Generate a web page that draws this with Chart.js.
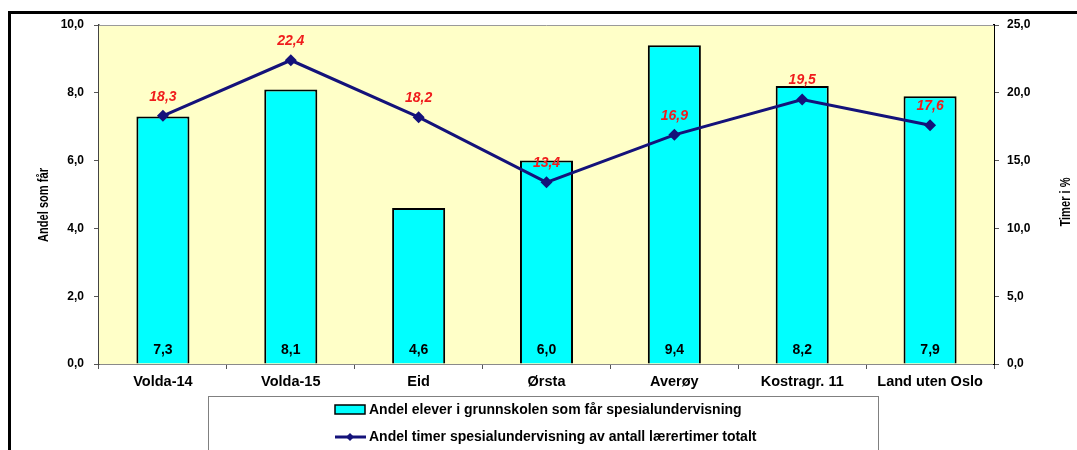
<!DOCTYPE html>
<html>
<head>
<meta charset="utf-8">
<script src="https://cdn.jsdelivr.net/npm/chart.js@4.4.1/dist/chart.umd.min.js"></script>
<style>
    body { margin: 0; background: #fff; }
    #wrap { position: relative; width: 1077px; height: 450px; }
</style>
</head>
<body>
<div id="wrap"><canvas id="grafico"></canvas></div>
<script>
// Datos
const kommuner = ['Volda-14', 'Volda-15', 'Eid', 'Ørsta', 'Averøy', 'Kostragr. 11', 'Land uten Oslo'];
const andelElever = [7.3, 8.1, 4.6, 6.0, 9.4, 8.2, 7.9];
const andelTimer = [18.3, 22.4, 18.2, 13.4, 16.9, 19.5, 17.6];
const ticksVenstre = [0, 2, 4, 6, 8, 10];
const ticksHoyre = [0, 5, 10, 15, 20, 25];

const navnElever = 'Andel elever i grunnskolen som får spesialundervisning';
const navnTimer = 'Andel timer spesialundervisning av antall lærertimer totalt';

const marina = '#14127a';
const coma = v => v.toFixed(1).replace('.', ',');
const fuente = 'Arial, "Liberation Sans", sans-serif';

// Fondo amarillo del area
const fondo = {
    id: 'fondo',
    beforeDatasetsDraw(chart) {
        const { ctx, chartArea: a } = chart;
        ctx.save();
        ctx.fillStyle = '#ffffc8';
        ctx.fillRect(a.left, a.top, a.right - a.left, a.bottom - a.top);
        ctx.strokeStyle = '#9a9a9a';
        ctx.lineWidth = 1;
        ctx.beginPath();
        ctx.moveTo(a.left, a.top + 0.5);
        ctx.lineTo(a.right, a.top + 0.5);
        ctx.stroke();
        ctx.restore();
    }
};

// Etiquetas de valores, titulos de ejes, leyenda y marco
const extras = {
    id: 'extras',
    afterDraw(chart) {
        const { ctx } = chart;
        ctx.save();

        // valores de las barras
        ctx.font = 'bold 14px ' + fuente;
        ctx.fillStyle = '#000';
        ctx.textAlign = 'center';
        ctx.textBaseline = 'middle';
        chart.getDatasetMeta(0).data.forEach((bar, i) => {
            ctx.fillText(coma(andelElever[i]), bar.x, bar.base - 13);
        });

        // valores de la linea
        ctx.font = 'italic bold 14px ' + fuente;
        ctx.fillStyle = '#f01c1c';
        chart.getDatasetMeta(1).data.forEach((pt, i) => {
            ctx.fillText(coma(andelTimer[i]), pt.x, pt.y - 19);
        });

        // titulos de ejes (letra estrecha)
        ctx.font = 'bold 15px ' + fuente;
        ctx.fillStyle = '#000';
        ctx.save();
        ctx.translate(44, 205);
        ctx.rotate(-Math.PI / 2);
        ctx.scale(0.74, 1);
        ctx.fillText('Andel som får', 0, 0);
        ctx.restore();
        ctx.save();
        ctx.translate(1066, 202);
        ctx.rotate(-Math.PI / 2);
        ctx.scale(0.74, 1);
        ctx.fillText('Timer i %', 0, 0);
        ctx.restore();

        // leyenda
        ctx.strokeStyle = '#808080';
        ctx.lineWidth = 1;
        ctx.strokeRect(208.5, 396.5, 670, 70);
        ctx.fillStyle = '#00ffff';
        ctx.fillRect(335, 405, 30, 9);
        ctx.strokeStyle = '#000';
        ctx.lineWidth = 1.5;
        ctx.strokeRect(335, 405, 30, 9);
        ctx.strokeStyle = marina;
        ctx.lineWidth = 3;
        ctx.beginPath();
        ctx.moveTo(335, 437);
        ctx.lineTo(366, 437);
        ctx.stroke();
        ctx.fillStyle = marina;
        ctx.beginPath();
        ctx.moveTo(350, 433);
        ctx.lineTo(354, 437);
        ctx.lineTo(350, 441);
        ctx.lineTo(346, 437);
        ctx.closePath();
        ctx.fill();
        ctx.font = 'bold 14px ' + fuente;
        ctx.fillStyle = '#000';
        ctx.textAlign = 'left';
        ctx.fillText(chart.data.datasets[0].label, 369, 410);
        ctx.fillText(chart.data.datasets[1].label, 369, 437);

        // marco exterior
        ctx.fillStyle = '#000';
        ctx.fillRect(8, 11, 1069, 3);
        ctx.fillRect(8, 11, 3, 439);
        ctx.restore();
    }
};

const ctx = document.getElementById('grafico').getContext('2d');

const miGrafico = new Chart(ctx, {
    data: {
        labels: kommuner,
        datasets: [
            {
                type: 'bar',
                label: navnElever,
                data: andelElever,
                yAxisID: 'y',
                backgroundColor: '#00ffff',
                borderColor: '#000',
                borderWidth: 2,
                categoryPercentage: 1,
                barPercentage: 0.415,
                order: 2
            },
            {
                type: 'line',
                label: navnTimer,
                data: andelTimer,
                yAxisID: 'y1',
                borderColor: marina,
                backgroundColor: marina,
                borderWidth: 3,
                pointStyle: 'rectRot',
                pointRadius: 6,
                pointBorderWidth: 0,
                tension: 0,
                order: 1
            }
        ]
    },
    options: {
        responsive: true,
        maintainAspectRatio: false,
        animation: false,
        layout: { padding: { top: 25, left: 0, right: 0, bottom: 0 } },
        plugins: {
            legend: { display: false },
            tooltip: { enabled: false }
        },
        scales: {
            x: {
                offset: true,
                afterFit: s => { s.height = 86; },
                grid: { drawOnChartArea: false, drawTicks: true, tickLength: 5, offset: true, color: '#555' },
                border: { color: '#8a8a8a', width: 1 },
                ticks: {
                    color: '#000',
                    padding: 4,
                    maxRotation: 0,
                    autoSkip: false,
                    font: { family: fuente, size: 14.5, weight: 'bold' }
                }
            },
            y: {
                position: 'left',
                min: 0,
                max: 10,
                afterFit: s => { s.width = 99; },
                afterBuildTicks: s => { s.ticks = ticksVenstre.map(v => ({ value: v })); },
                grid: { drawOnChartArea: false, tickLength: 5, color: '#555' },
                border: { color: '#444', width: 1.5 },
                ticks: {
                    color: '#000',
                    padding: 10,
                    callback: v => coma(v),
                    font: { family: fuente, size: 12, weight: 'bold' }
                }
            },
            y1: {
                position: 'right',
                min: 0,
                max: 25,
                afterFit: s => { s.width = 83; },
                afterBuildTicks: s => { s.ticks = ticksHoyre.map(v => ({ value: v })); },
                grid: { drawOnChartArea: false, tickLength: 5, color: '#555' },
                border: { color: '#000', width: 2 },
                ticks: {
                    color: '#000',
                    padding: 8,
                    callback: v => coma(v),
                    font: { family: fuente, size: 12, weight: 'bold' }
                }
            }
        }
    },
    plugins: [fondo, extras]
});
</script>
</body>
</html>
